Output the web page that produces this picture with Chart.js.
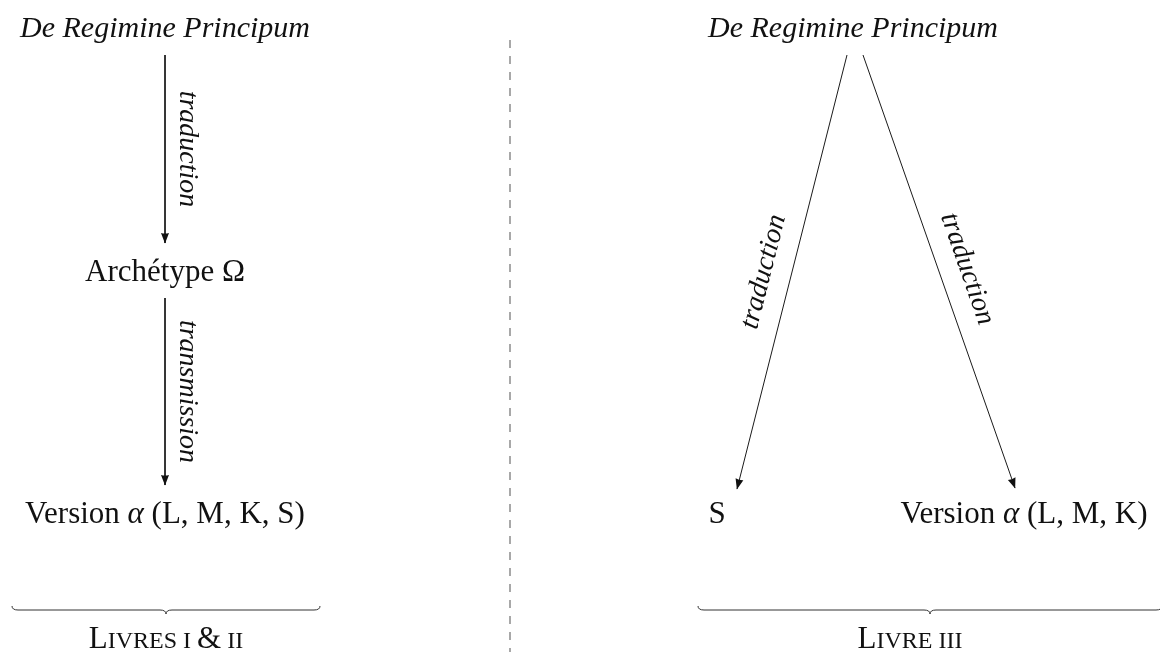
<!DOCTYPE html>
<html><head><meta charset="utf-8">
<script src="https://cdn.jsdelivr.net/npm/chart.js@4.4.1/dist/chart.umd.min.js"></script>
<style>html,body{margin:0;padding:0;background:#fff;overflow:hidden}#wrap{width:1160px;height:652px}</style>
</head><body><div id="wrap"><canvas id="c" width="1160" height="652"></canvas></div>
<script>
// Diagram coordinate space: x 0..1160 (right), y 0..652 (down)
const nodeLabels = ['De Regimine Principum', 'Archétype Ω', 'Version α (L, M, K, S)', 'De Regimine Principum', 'S', 'Version α (L, M, K)'];
const nodeX = [165, 165, 165, 853, 717, 1024];
const nodeY = [37, 281, 523, 37, 523, 523];
const nodeItalic = [true, false, false, true, false, false];

const edgeLabels = ['traduction', 'transmission', 'traduction', 'traduction'];
const edgeFromX = [165, 165, 847, 863];
const edgeFromY = [55, 298, 55, 55];
const edgeToX = [165, 165, 737, 1015];
const edgeToY = [243, 485, 489, 488];

const groupLabels = ['Livres i & ii', 'Livre iii'];
const groupFromX = [12, 698];
const groupToX = [320, 1162];
const groupLabelX = [166, 910];

const dividerX = [510, 510];
const dividerY = [40, 652];

const INK = '#111';
const FONT = '"Liberation Serif", "Times New Roman", serif';

function drawRich(ctx, text, cx, by, size, italic) {
  if (italic) {
    ctx.font = 'italic ' + size + 'px ' + FONT;
    ctx.textAlign = 'center';
    ctx.fillText(text, cx, by);
    return;
  }
  const segs = [];
  const parts = text.split('α');
  parts.forEach((p, i) => {
    if (p) segs.push([p, false]);
    if (i < parts.length - 1) segs.push(['α', true]);
  });
  let total = 0;
  segs.forEach(s => {
    ctx.font = (s[1] ? 'italic ' : '') + size + 'px ' + FONT;
    s.push(ctx.measureText(s[0]).width);
    total += s[2];
  });
  let xx = cx - total / 2;
  ctx.textAlign = 'left';
  segs.forEach(s => {
    ctx.font = (s[1] ? 'italic ' : '') + size + 'px ' + FONT;
    ctx.fillText(s[0], xx, by);
    xx += s[2];
  });
}

function drawSmallCaps(ctx, text, cx, by, big, small) {
  const segs = [];
  for (const ch of text) {
    const isLower = ch !== ch.toUpperCase();
    segs.push([isLower ? ch.toUpperCase() : ch, isLower || ch === ' ' ? small : big]);
  }
  let total = 0;
  segs.forEach(s => { ctx.font = s[1] + 'px ' + FONT; s.push(ctx.measureText(s[0]).width); total += s[2]; });
  let xx = cx - total / 2;
  ctx.textAlign = 'left';
  segs.forEach(s => { ctx.font = s[1] + 'px ' + FONT; ctx.fillText(s[0], xx, by); xx += s[2]; });
}

function drawBrace(ctx, x1, x2, yy, a) {
  const xm = (x1 + x2) / 2;
  ctx.beginPath();
  ctx.moveTo(x1, yy - a);
  ctx.quadraticCurveTo(x1, yy, x1 + a * 1.5, yy);
  ctx.lineTo(xm - a * 1.5, yy);
  ctx.quadraticCurveTo(xm, yy, xm, yy + a);
  ctx.quadraticCurveTo(xm, yy, xm + a * 1.5, yy);
  ctx.lineTo(x2 - a * 1.5, yy);
  ctx.quadraticCurveTo(x2, yy, x2, yy - a);
  ctx.stroke();
}

const diagramPlugin = {
  id: 'diagram',
  afterDatasetsDraw(chart) {
    const { ctx } = chart;
    const sx = chart.scales.x, sy = chart.scales.y;
    ctx.save();
    ctx.fillStyle = INK;
    ctx.textBaseline = 'alphabetic';
    // arrowheads + edge labels
    for (let i = 0; i < edgeLabels.length; i++) {
      const x1 = sx.getPixelForValue(edgeFromX[i]), y1 = sy.getPixelForValue(edgeFromY[i]);
      const x2 = sx.getPixelForValue(edgeToX[i]), y2 = sy.getPixelForValue(edgeToY[i]);
      const ang = Math.atan2(y2 - y1, x2 - x1);
      ctx.save();
      ctx.translate(x2, y2);
      ctx.rotate(ang);
      ctx.beginPath();
      ctx.moveTo(0.5, 0);
      ctx.lineTo(-10, -4);
      ctx.quadraticCurveTo(-8.8, 0, -10, 4);
      ctx.closePath();
      ctx.fill();
      ctx.restore();

      let th = ang;
      if (th > Math.PI / 2 + 1e-6) th -= Math.PI;
      if (th < -Math.PI / 2 - 1e-6) th += Math.PI;
      const slanted = Math.abs(Math.cos(th)) > 0.1;
      const gap = slanted ? 20 : 15;
      const t = slanted ? 0.515 : 0.5;
      const ux = Math.sin(th), uy = -Math.cos(th);
      const mx = x1 + (x2 - x1) * t + ux * gap, my = y1 + (y2 - y1) * t + uy * gap;
      ctx.save();
      ctx.translate(mx, my);
      ctx.rotate(th);
      ctx.font = 'italic 28px ' + FONT;
      ctx.textAlign = 'center';
      ctx.fillText(edgeLabels[i], 0, 0);
      ctx.restore();
    }
    // nodes
    for (let i = 0; i < nodeLabels.length; i++) {
      drawRich(ctx, nodeLabels[i], sx.getPixelForValue(nodeX[i]), sy.getPixelForValue(nodeY[i]), nodeItalic[i] ? 30 : 31, nodeItalic[i]);
    }
    // group braces
    ctx.lineWidth = 1;
    ctx.strokeStyle = '#333';
    for (let i = 0; i < groupLabels.length; i++) {
      drawBrace(ctx, sx.getPixelForValue(groupFromX[i]), sx.getPixelForValue(groupToX[i]), sy.getPixelForValue(610), 4);
      drawSmallCaps(ctx, groupLabels[i], sx.getPixelForValue(groupLabelX[i]), sy.getPixelForValue(648), 31, 24);
    }
    ctx.restore();
  }
};

const datasets = edgeLabels.map((lab, i) => ({
  label: lab,
  data: [{ x: edgeFromX[i], y: edgeFromY[i] }, { x: edgeToX[i], y: edgeToY[i] }],
  showLine: true, pointRadius: 0, borderWidth: 1, borderColor: '#1a1a1a', clip: false
}));
datasets.push({
  label: 'divider',
  data: [{ x: dividerX[0], y: dividerY[0] }, { x: dividerX[1], y: dividerY[1] }],
  showLine: true, pointRadius: 0, borderWidth: 1.3, borderColor: '#7a7a7a', borderDash: [8, 8], clip: false
});

new Chart(document.getElementById('c'), {
  type: 'scatter',
  data: { datasets },
  options: {
    responsive: false, animation: false, events: [],
    layout: { padding: 0 },
    plugins: { legend: { display: false }, tooltip: { enabled: false } },
    scales: {
      x: { type: 'linear', display: false, min: 0, max: 1160 },
      y: { type: 'linear', display: false, min: 0, max: 652, reverse: true }
    }
  },
  plugins: [diagramPlugin]
});
</script></body></html>
